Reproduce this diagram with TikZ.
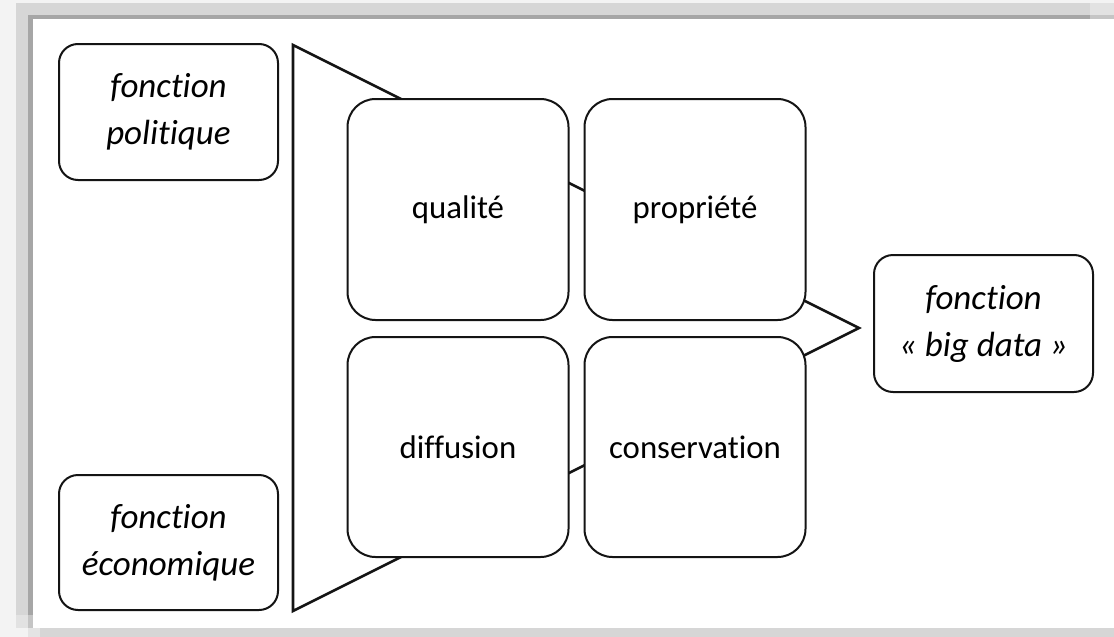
\documentclass[tikz,border=0pt]{standalone}
\usepackage{fontspec}
\setmainfont{Carlito}[Ligatures={NoCommon}]
\definecolor{lineclr}{HTML}{141414}
\definecolor{bandA}{HTML}{F3F3F3}
\definecolor{bandB}{HTML}{D6D6D6}
\definecolor{bandC}{HTML}{A6A6A6}
\begin{document}
\begin{tikzpicture}[x=1pt,y=-1pt,
  fbox/.style={draw=lineclr,line width=2pt,fill=white,rounded corners=19pt,
    align=center,inner sep=0pt,font=\itshape\fontsize{35}{47}\selectfont},
  gbox/.style={draw=lineclr,line width=2pt,fill=white,rounded corners=28pt,
    align=center,inner sep=0pt,minimum width=221pt,font=\fontsize{32.8}{40}\selectfont},
  tri/.style={draw=lineclr,line width=2.6pt,fill=white,line join=miter}]
% frame with shadow
\useasboundingbox (0,0) rectangle (1114,637);
\fill[bandA] (0,0) rectangle (1114,637);
\fill[bandB] (16,3) rectangle (1090,15);
\fill[bandB!60!bandA] (1090,3) rectangle (1114,15);
\fill[bandB] (16,3) rectangle (28,615);
\fill[bandB!60!bandA] (16,615) rectangle (28,628);
\fill[bandC] (28,15) rectangle (1090,19);
\fill[bandC!60!bandA] (1090,15) rectangle (1114,19);
\fill[bandC] (28,15) rectangle (33,615);
\fill[bandC!60!bandA] (28,615) rectangle (33,628);
\fill[bandB] (40,628) rectangle (1114,637);
\fill[bandB!50!bandA] (28,628) rectangle (40,637);
\fill[white] (33,19) rectangle (1114,628);
% big triangle
\coordinate (t1) at (293,45);
\coordinate (t2) at (293,611);
\coordinate (apex) at (859,328);
\draw[tri] (t1) -- (apex) -- (t2) -- cycle;
% boxes
\node[fbox,minimum width=219pt,minimum height=136pt] (pol) at (168.5,112) {fonction\\politique};
\node[fbox,minimum width=219pt,minimum height=135pt] (eco) at (168.5,542.5) {fonction\\économique};
\node[fbox,minimum width=219pt,minimum height=137pt] (big) at (983.5,323.5) {fonction\\« big data »};
\node[gbox,minimum height=221pt] (qual) at (458,209.5) {qualité};
\node[gbox,minimum height=221pt] (prop) at (695,209.5) {propriété};
\node[gbox,minimum height=220pt] (diff) at (458,447) {diffusion};
\node[gbox,minimum height=220pt] (cons) at (695,447) {conservation};
\end{tikzpicture}
\end{document}
